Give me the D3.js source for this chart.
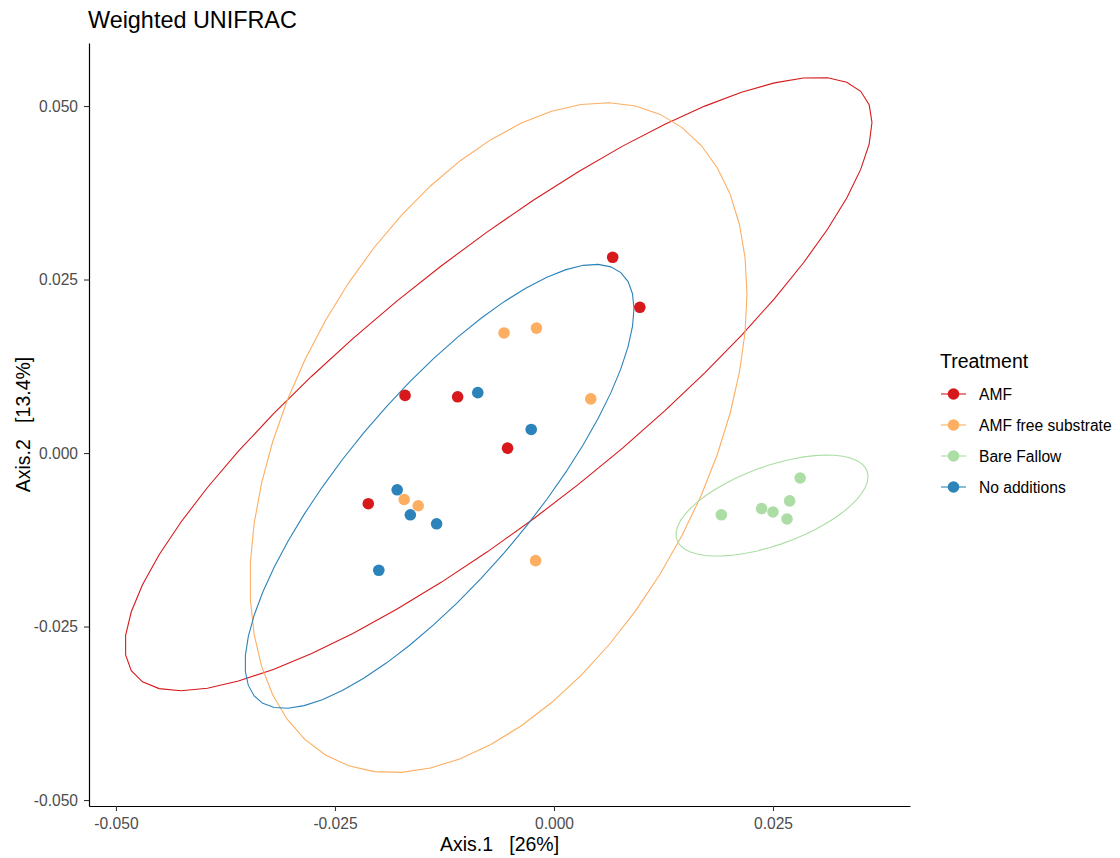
<!DOCTYPE html>
<html>
<head>
<meta charset="utf-8">
<script src="https://cdn.jsdelivr.net/npm/d3@7"></script>
<style>
    body { margin: 0; background: #fff; }
    text { font-family: "Liberation Sans", Arial, sans-serif; }
</style>
</head>
<body>
<div id="pcoa-chart"></div>
<script>
'use strict';

// groups and their colours (Spectral palette)
const treatments = ["AMF", "AMF free substrate", "Bare Fallow", "No additions"];
const colours = ["#D7191C", "#FDAE61", "#ABDDA4", "#2B83BA"];

// ordination scores [Axis.1, Axis.2] for each sample
const amf = [[0.0067, 0.0282], [0.0098, 0.0210], [-0.0170, 0.0083], [-0.0110, 0.0081], [-0.0053, 0.0007], [-0.0212, -0.0073]];
const amfFree = [[-0.0057, 0.0173], [-0.0020, 0.0180], [0.0042, 0.0078], [-0.0171, -0.0067], [-0.0155, -0.0076], [-0.0021, -0.0155]];
const bareFallow = [[0.0281, -0.0036], [0.0269, -0.0069], [0.0237, -0.0080], [0.0250, -0.0085], [0.0266, -0.0095], [0.0191, -0.0089]];
const noAdditions = [[-0.0087, 0.0087], [-0.0026, 0.0034], [-0.0179, -0.0053], [-0.0164, -0.0089], [-0.0134, -0.0102], [-0.0200, -0.0169]];

// 95% ellipse for each group: centre, half extents and correlation
const ellCentreX = [-0.00634, -0.00634, 0.02489, -0.01307];
const ellCentreY = [0.00994, 0.00221, -0.00757, -0.00480];
const ellHalfX = [0.04264, 0.02837, 0.01096, 0.02220];
const ellHalfY = [0.04419, 0.04827, 0.00728, 0.03199];
const ellCor = [0.853, 0.429, 0.573, 0.800];

const xTicks = [-0.05, -0.025, 0, 0.025];
const yTicks = [-0.05, -0.025, 0, 0.025, 0.05];

const groups = [amf, amfFree, bareFallow, noAdditions];

var width = 1120, height = 858;
var panel = {left: 89, right: 910, top: 43, bottom: 806};

var svg = d3.select("#pcoa-chart").append("svg")
    .attr("width", width)
    .attr("height", height);

var x = d3.scaleLinear()
    .domain([-0.05308, 0.04064])
    .range([panel.left, panel.right]);
var y = d3.scaleLinear()
    .domain([-0.05086, 0.05908])
    .range([panel.bottom, panel.top]);

// ellipses, drawn like stat_ellipse: unit circle times cholesky factor
var segments = 51;
function ellipsePoints(i) {
    var pts = [];
    var r = ellCor[i];
    for (var k = 0; k <= segments; k++) {
        var t = 2 * Math.PI * k / segments;
        var ex = ellCentreX[i] + ellHalfX[i] * Math.cos(t);
        var ey = ellCentreY[i] + ellHalfY[i] * (r * Math.cos(t) + Math.sqrt(1 - r * r) * Math.sin(t));
        pts.push([ex, ey]);
    }
    return pts;
}

var line = d3.line()
    .x(function (d) { return x(d[0]); })
    .y(function (d) { return y(d[1]); });

svg.append("g").selectAll("path")
    .data(treatments)
    .enter().append("path")
    .attr("d", function (d, i) { return line(ellipsePoints(i)); })
    .attr("fill", "none")
    .attr("stroke", function (d, i) { return colours[i]; })
    .attr("stroke-width", 1.1);

// points
groups.forEach(function (g, i) {
    svg.append("g").selectAll("circle")
        .data(g)
        .enter().append("circle")
        .attr("cx", function (d) { return x(d[0]); })
        .attr("cy", function (d) { return y(d[1]); })
        .attr("r", 5.8)
        .attr("fill", colours[i]);
});

// axes
var fmt = function (d) { return d.toFixed(3); };

var xAxis = svg.append("g")
    .attr("transform", "translate(0," + panel.bottom + ")")
    .call(d3.axisBottom(x).tickValues(xTicks).tickFormat(fmt).tickSize(5).tickPadding(7).tickSizeOuter(0));
var yAxis = svg.append("g")
    .attr("transform", "translate(" + panel.left + ",0)")
    .call(d3.axisLeft(y).tickValues(yTicks).tickFormat(fmt).tickSize(5).tickPadding(6).tickSizeOuter(0));

[xAxis, yAxis].forEach(function (a) {
    a.select(".domain").attr("stroke", "#000").attr("stroke-width", 1.2);
    a.selectAll(".tick line").attr("stroke", "#333").attr("stroke-width", 1.1);
    a.selectAll(".tick text")
        .attr("fill", "#4d4d4d")
        .style("font-size", "15.6px")
        .style("font-family", "'Liberation Sans', Arial, sans-serif");
});

// titles
svg.append("text")
    .attr("x", 88)
    .attr("y", 28)
    .text("Weighted UNIFRAC")
    .style("font-size", "23.4px")
    .style("fill", "#000");

svg.append("text")
    .attr("x", (panel.left + panel.right) / 2)
    .attr("y", 851)
    .attr("text-anchor", "middle")
    .attr("xml:space", "preserve")
    .text("Axis.1   [26%]")
    .style("font-size", "19.5px");

svg.append("text")
    .attr("transform", "translate(30," + (panel.top + panel.bottom) / 2 + ") rotate(-90)")
    .attr("text-anchor", "middle")
    .attr("xml:space", "preserve")
    .text("Axis.2   [13.4%]")
    .style("font-size", "19.5px");

// legend
var legend = svg.append("g");
legend.append("text")
    .attr("x", 940)
    .attr("y", 368)
    .text("Treatment")
    .style("font-size", "19.5px");

var keys = legend.selectAll(".key")
    .data(treatments)
    .enter().append("g")
    .attr("class", "key")
    .attr("transform", function (d, i) { return "translate(0," + (394 + i * 31) + ")"; });

keys.append("line")
    .attr("x1", 941).attr("x2", 966)
    .attr("stroke", function (d, i) { return colours[i]; })
    .attr("stroke-width", 1.1);
keys.append("circle")
    .attr("cx", 953.5)
    .attr("r", 5.8)
    .attr("fill", function (d, i) { return colours[i]; });
keys.append("text")
    .attr("x", 979)
    .attr("dy", "0.36em")
    .text(function (d) { return d; })
    .style("font-size", "15.6px");
</script>
</body>
</html>
